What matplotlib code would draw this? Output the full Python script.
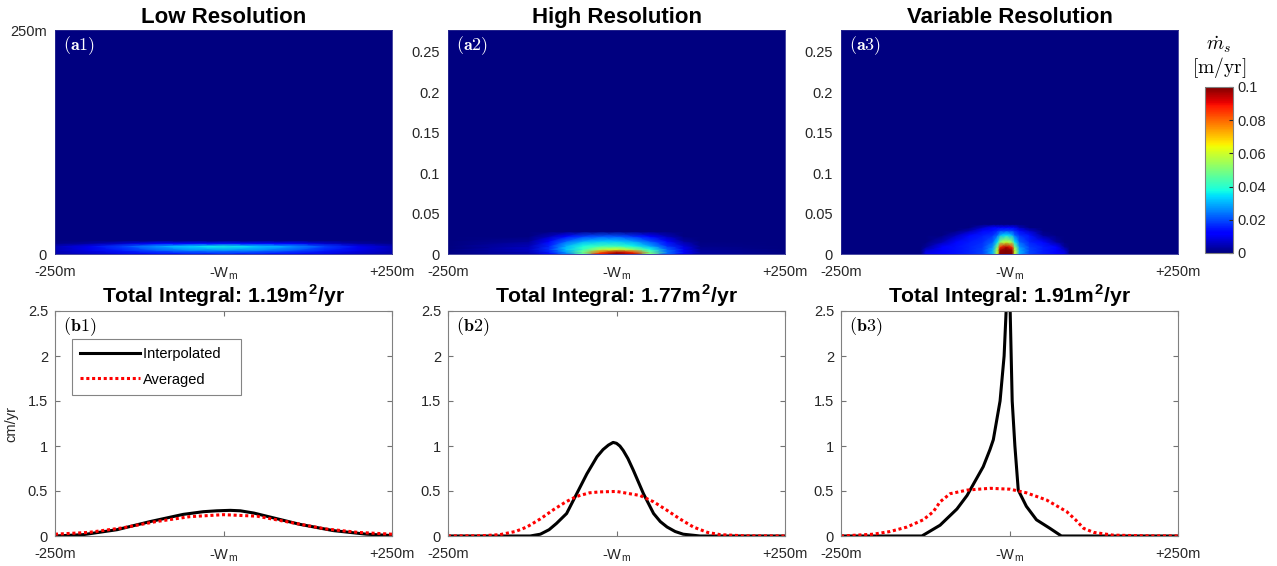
import numpy as np
import matplotlib
matplotlib.use('Agg')
import matplotlib.pyplot as plt

plt.rcParams['font.family'] = ['Liberation Sans', 'DejaVu Sans']
plt.rcParams['mathtext.fontset'] = 'cm'

# --- top row: melt rate fields (m/yr) ---
a1_x = [-250, -200, -150, -100, -50, 0, 50, 100, 150, 200, 250]
a1_y = [0, 4, 8.5, 12, 15, 250]
a1_z = [[0.004, 0.006, 0.009, 0.012, 0.014, 0.015, 0.014, 0.012, 0.009, 0.006, 0.004],
        [0.005, 0.009, 0.015, 0.021, 0.025, 0.026, 0.025, 0.021, 0.015, 0.009, 0.005],
        [0.005, 0.010, 0.019, 0.028, 0.034, 0.037, 0.033, 0.028, 0.019, 0.010, 0.005],
        [0.001, 0.003, 0.007, 0.011, 0.013, 0.014, 0.013, 0.011, 0.007, 0.003, 0.001],
        [0, 0, 0, 0, 0, 0, 0, 0, 0, 0, 0],
        [0, 0, 0, 0, 0, 0, 0, 0, 0, 0, 0]]

a2_x = [-250, -130, -100, -75, -50, -25, 0, 25, 50, 75, 100, 125, 250]
a2_y = [0, 0.0025, 0.006, 0.01, 0.016, 0.022, 0.028, 0.277]
a2_z = [[0, 0.004, 0.012, 0.024, 0.045, 0.090, 0.100, 0.095, 0.050, 0.022, 0.010, 0.003, 0],
        [0, 0.005, 0.015, 0.028, 0.048, 0.080, 0.095, 0.085, 0.048, 0.024, 0.011, 0.003, 0],
        [0, 0.006, 0.017, 0.032, 0.042, 0.055, 0.060, 0.052, 0.038, 0.022, 0.010, 0.002, 0],
        [0, 0.005, 0.016, 0.030, 0.038, 0.042, 0.042, 0.037, 0.029, 0.017, 0.008, 0.001, 0],
        [0, 0.002, 0.011, 0.022, 0.029, 0.032, 0.032, 0.028, 0.020, 0.011, 0.003, 0, 0],
        [0, 0, 0.005, 0.013, 0.018, 0.021, 0.021, 0.017, 0.011, 0.005, 0, 0, 0],
        [0, 0, 0, 0, 0, 0, 0, 0, 0, 0, 0, 0, 0],
        [0, 0, 0, 0, 0, 0, 0, 0, 0, 0, 0, 0, 0]]

a3_x = [-250, -132, -124, -100, -80, -60, -40, -25, -18, -14, -5, 4, 8, 15, 30, 50, 70, 82, 90, 250]
a3_y = [0, 0.005, 0.009, 0.015, 0.0235, 0.029, 0.033, 0.037, 0.277]
a3_z = [[0, 0, 0.010, 0.012, 0.014, 0.016, 0.019, 0.030, 0.060, 0.100, 0.110, 0.100, 0.060, 0.030, 0.019, 0.015, 0.012, 0.010, 0, 0],
        [0, 0, 0.007, 0.012, 0.014, 0.016, 0.019, 0.030, 0.058, 0.097, 0.108, 0.097, 0.058, 0.030, 0.019, 0.015, 0.012, 0.007, 0, 0],
        [0, 0, 0.002, 0.011, 0.014, 0.016, 0.018, 0.027, 0.050, 0.085, 0.095, 0.085, 0.050, 0.027, 0.018, 0.015, 0.011, 0.002, 0, 0],
        [0, 0, 0, 0.005, 0.013, 0.015, 0.017, 0.022, 0.035, 0.052, 0.060, 0.052, 0.035, 0.022, 0.016, 0.013, 0.003, 0, 0, 0],
        [0, 0, 0, 0, 0.005, 0.013, 0.015, 0.017, 0.022, 0.030, 0.035, 0.030, 0.022, 0.017, 0.014, 0.002, 0, 0, 0, 0],
        [0, 0, 0, 0, 0, 0.004, 0.013, 0.014, 0.016, 0.018, 0.019, 0.018, 0.016, 0.013, 0.006, 0, 0, 0, 0, 0],
        [0, 0, 0, 0, 0, 0, 0.006, 0.011, 0.012, 0.012, 0.012, 0.011, 0.010, 0.005, 0, 0, 0, 0, 0, 0],
        [0, 0, 0, 0, 0, 0, 0, 0, 0, 0, 0, 0, 0, 0, 0, 0, 0, 0, 0, 0],
        [0, 0, 0, 0, 0, 0, 0, 0, 0, 0, 0, 0, 0, 0, 0, 0, 0, 0, 0, 0]]

# --- bottom row: profiles (cm/yr) ---
b1_interp_x = [-250, -208, -158, -109, -60, -30, -10, 10, 25, 45, 64, 113, 163, 212, 250]
b1_interp_y = [0.0, 0.015, 0.07, 0.16, 0.24, 0.27, 0.28, 0.285, 0.28, 0.255, 0.22, 0.13, 0.06, 0.02, 0.005]
b1_avg_x = [-250, -200, -150, -100, -50, 0, 50, 100, 150, 200, 250]
b1_avg_y = [0.02, 0.04, 0.09, 0.16, 0.215, 0.237, 0.22, 0.15, 0.08, 0.04, 0.02]

b2_interp_x = [-250, -128, -113, -100, -89, -74, -59, -44, -29, -20, -12, -5, 0, 5, 10, 17, 25, 40, 55, 65, 75, 87, 99, 124, 250]
b2_interp_y = [0, 0, 0.02, 0.07, 0.14, 0.25, 0.47, 0.69, 0.88, 0.96, 1.01, 1.04, 1.03, 1.0, 0.95, 0.86, 0.73, 0.47, 0.25, 0.16, 0.10, 0.05, 0.02, 0, 0]
b2_avg_x = [-250, -200, -173, -150, -133, -113, -94, -75, -59, -40, -25, 0, 35, 55, 74, 94, 114, 135, 154, 190, 250]
b2_avg_y = [0, 0.003, 0.015, 0.05, 0.10, 0.19, 0.29, 0.38, 0.44, 0.48, 0.49, 0.495, 0.45, 0.38, 0.29, 0.19, 0.10, 0.04, 0.015, 0.002, 0]

b3_interp_x = [-250, -130, -103, -78, -63, -54, -39, -29, -24, -14, -8, -5, -1, 1, 4, 8, 13, 25, 40, 60, 77, 250]
b3_interp_y = [0, 0, 0.12, 0.30, 0.45, 0.57, 0.77, 0.96, 1.07, 1.5, 2.0, 2.5, 3.2, 2.5, 1.5, 1.0, 0.51, 0.33, 0.18, 0.085, 0, 0]
b3_avg_x = [-250, -202, -177, -152, -128, -113, -103, -88, -63, -29, 1, 25, 55, 85, 98, 110, 125, 153, 200, 250]
b3_avg_y = [0, 0.02, 0.05, 0.10, 0.18, 0.27, 0.38, 0.47, 0.51, 0.53, 0.52, 0.48, 0.40, 0.27, 0.18, 0.085, 0.04, 0.01, 0.002, 0]

top_titles = ['Low Resolution', 'High Resolution', 'Variable Resolution']
bottom_titles = ['Total Integral: 1.19m$^{\\mathregular{2}}$/yr',
                 'Total Integral: 1.77m$^{\\mathregular{2}}$/yr',
                 'Total Integral: 1.91m$^{\\mathregular{2}}$/yr']
top_labels = ['(a1)', '(a2)', '(a3)']
bottom_labels = ['(b1)', '(b2)', '(b3)']
xtick_labels = ['-250m', '-W$_{\\mathregular{m}}$', '+250m']
cbar_ticks = [0, 0.02, 0.04, 0.06, 0.08, 0.1]

fields = [(a1_x, a1_y, a1_z), (a2_x, a2_y, a2_z), (a3_x, a3_y, a3_z)]
profiles = [(b1_interp_x, b1_interp_y, b1_avg_x, b1_avg_y),
            (b2_interp_x, b2_interp_y, b2_avg_x, b2_avg_y),
            (b3_interp_x, b3_interp_y, b3_avg_x, b3_avg_y)]

W, H = 1277., 566.
fig = plt.figure(figsize=(W / 100, H / 100), dpi=100)
lefts = [55, 448, 841]
axw = 337
tick_color = '#262626'

mesh = None
for i, (x, y, z) in enumerate(fields):
    ax = fig.add_axes([lefts[i] / W, (H - 254) / H, axw / W, 224 / H])
    X, Y = np.meshgrid(x, y)
    mesh = ax.pcolormesh(X, Y, np.array(z), shading='gouraud', cmap='jet', vmin=0, vmax=0.1)
    ax.set_xlim(-250, 250)
    ax.set_xticks([-250, 0, 250])
    ax.set_xticklabels(xtick_labels)
    if i == 0:
        ax.set_ylim(0, 250)
        ax.set_yticks([0, 250])
        ax.set_yticklabels(['0', '250m'])
    else:
        ax.set_ylim(0, 0.277)
        ax.set_yticks([0, 0.05, 0.1, 0.15, 0.2, 0.25])
        ax.set_yticklabels(['0', '0.05', '0.1', '0.15', '0.2', '0.25'])
    ax.tick_params(length=0, labelsize=10.5, colors=tick_color)
    ax.tick_params(axis='x', pad=8)
    ax.tick_params(axis='y', pad=6)
    for s in ax.spines.values():
        s.set_color('#2a2a90')
        s.set_linewidth(0.6)
    ax.set_title(top_titles[i], fontsize=16, fontweight='bold', pad=5)
    ax.text(0.025, 0.93, '$\\mathbf{' + top_labels[i] + '}$', transform=ax.transAxes,
            color='white', fontsize=13, ha='left', va='center')

cax = fig.add_axes([1205 / W, (H - 253) / H, 28 / W, 166 / H])
cb = fig.colorbar(mesh, cax=cax, ticks=cbar_ticks)
cb.ax.set_yticklabels(['%g' % t for t in cbar_ticks])
cb.ax.tick_params(labelsize=10.5, colors=tick_color, length=3, direction='in')
cb.outline.set_edgecolor('0.5')
fig.text(1219 / W, 1 - 45 / H, '$\\dot{m}_s$', ha='center', va='center', fontsize=14)
fig.text(1219 / W, 1 - 67 / H, '$[\\mathrm{m/yr}]$', ha='center', va='center', fontsize=14)

for i, (xi, yi, xa, ya) in enumerate(profiles):
    ax = fig.add_axes([lefts[i] / W, (H - 536) / H, axw / W, 225 / H])
    ax.plot(xi, yi, color='black', lw=2.2, label='Interpolated')
    ax.plot(xa, ya, color='red', lw=2.2, linestyle=(0, (1, 0.9)), label='Averaged')
    ax.set_xlim(-250, 250)
    ax.set_ylim(0, 2.5)
    ax.set_xticks([-250, 0, 250])
    ax.set_xticklabels(xtick_labels)
    ax.set_yticks([0, 0.5, 1, 1.5, 2, 2.5])
    ax.set_yticklabels(['0', '0.5', '1', '1.5', '2', '2.5'])
    ax.tick_params(direction='in', top=True, right=True, length=3.5, width=0.8,
                   labelsize=10.5, colors='0.45', labelcolor=tick_color)
    ax.tick_params(axis='x', pad=8)
    ax.tick_params(axis='y', pad=5)
    for s in ax.spines.values():
        s.set_color('0.5')
        s.set_linewidth(0.8)
    ax.set_title(bottom_titles[i], fontsize=15.2, fontweight='bold', pad=6)
    ax.text(0.025, 0.93, '$\\mathbf{' + bottom_labels[i] + '}$', transform=ax.transAxes,
            color='black', fontsize=13, ha='left', va='center')
    if i == 0:
        ax.set_ylabel('cm/yr', fontsize=10.5, color=tick_color)
        ax.yaxis.set_label_coords(-0.11, 0.5)
        leg = ax.legend(['Interpolated   ', 'Averaged'], loc='upper left',
                        bbox_to_anchor=(0.05, 0.876), borderaxespad=0,
                        fontsize=10.5, handlelength=4.1, handletextpad=0.2,
                        labelspacing=0.8, borderpad=0.55, fancybox=False)
        leg.get_frame().set_edgecolor('0.4')
        leg.get_frame().set_linewidth(0.8)

plt.savefig('out.png', dpi=100)
